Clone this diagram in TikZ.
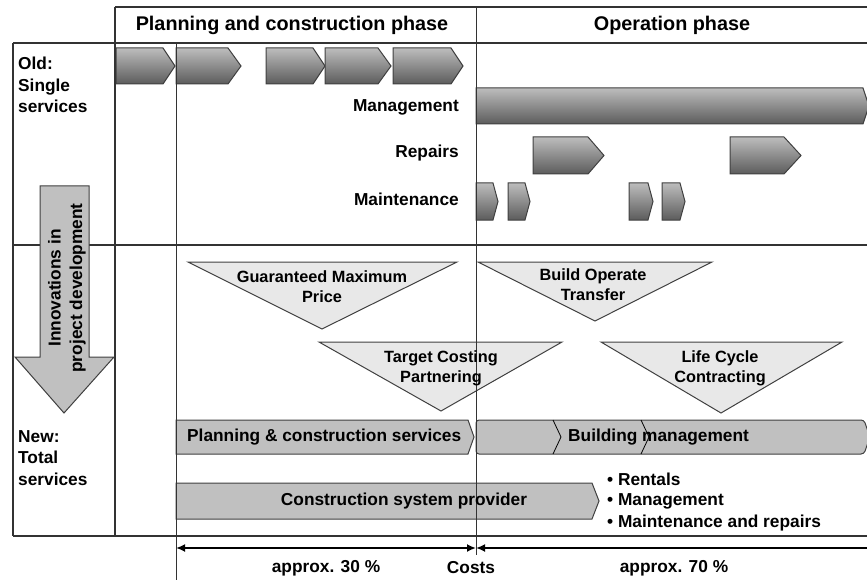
\documentclass[tikz,border=0pt]{standalone}
\usepackage{fontspec}
\setmainfont{Liberation Sans}
\usepackage{tikz}
\usetikzlibrary{arrows.meta}
\definecolor{edgegray}{HTML}{404040}
\definecolor{linegray}{HTML}{333333}
\definecolor{barfill}{HTML}{C0C0C0}
\definecolor{trifill}{HTML}{E8E8E8}
\tikzset{
  gridline/.style={draw=linegray, line width=1.2pt},
  phaseline/.style={draw=linegray, line width=0.9pt},
  oldchev/.style={draw=edgegray, line width=1pt, top color=black!26, bottom color=black!64},
  newbar/.style={draw=edgegray, line width=1pt, fill=barfill},
  wedge/.style={draw=edgegray, line width=1pt, fill=trifill},
  costarrow/.style={draw=black, line width=2pt, {Latex[length=9pt,width=8pt]}-{Latex[length=9pt,width=8pt]}},
  txt/.style={font=\bfseries\fontsize{17.3}{21.5}\selectfont, inner sep=0pt},
  headtxt/.style={font=\bfseries\fontsize{19.8}{23}\selectfont, inner sep=0pt},
  tritxt/.style={font=\bfseries\fontsize{16.3}{20}\selectfont, inner sep=0pt, align=center}
}
% \chev[style]{left}{tip}{top}{bottom}{tip depth}
\newcommand{\chev}[6][oldchev]{%
  \draw[#1] (#2,#4) -- ({#3-#6},#4) -- (#3,{(#4+#5)/2}) -- ({#3-#6},#5) -- (#2,#5) -- cycle;}

\begin{document}
\begin{tikzpicture}[x=1pt, y=-1pt]
\useasboundingbox (0,0) rectangle (867,580);

% old single services
\chev{116}{175}{48}{84}{12}
\chev{176}{241}{48}{84}{13}
\chev{266}{325}{48}{84}{12}
\chev{325}{391}{48}{84}{13}
\chev{393}{463}{48}{84}{12}
\chev{476}{869}{88}{124}{6}
\chev{533}{604}{137}{174}{16}
\chev{730}{801}{137}{174}{17}
\foreach \a/\b in {476/498, 508/530, 629/653, 662/685}{
  \chev{\a}{\b}{183}{220}{5}
}

% innovations
\draw[wedge] (188,262) -- (457,262) -- (322,329) -- cycle;
\draw[wedge] (319,342) -- (562,342) -- (441,411) -- cycle;
\draw[wedge] (478,262) -- (712,262) -- (595,321) -- cycle;
\draw[wedge] (601,342) -- (842,342) -- (721,413) -- cycle;

% new total services
\draw[newbar] (176,420) -- (468,420) -- (474,437) -- (468,454) -- (176,454) -- cycle;
\draw[newbar, rounded corners=3pt] (476,420) -- (864,420) -- (870,437) -- (864,454) -- (476,454) -- cycle;
\draw[black, line width=0.8pt] (553,420) -- (561,437) -- (553,454);
\draw[black, line width=0.8pt] (641,420) -- (649,437) -- (641,454);
\draw[newbar] (176,483) -- (592,483) -- (599,501) -- (592,519) -- (176,519) -- cycle;

% frame
\draw[gridline] (115,7) -- (867,7);
\draw[gridline] (13,43) -- (867,43);
\draw[gridline] (13,245) -- (867,245);
\draw[gridline] (13,536) -- (867,536);
\draw[gridline] (13,43) -- (13,536);
\draw[gridline] (115,7) -- (115,536);
\draw[phaseline] (176,43) -- (176,580);
\draw[phaseline] (476,7) -- (476,555);

% development arrow
\draw[draw=edgegray, line width=1pt, fill=barfill]
  (40,186) -- (89,186) -- (89,357) -- (114,357) -- (64,413) -- (15,357) -- (40,357) -- cycle;
\node[txt, rotate=90, align=center] (innov) at (67,288) {Innovations in\\project development};

\node[headtxt] (planphase) at (292,25) {Planning and construction phase};
\node[headtxt] (opphase) at (672,25) {Operation phase};

\node[txt, anchor=west, align=left] (old) at (18,85) {Old:\\Single\\services};
\node[txt, anchor=west, align=left] (new) at (18,458) {New:\\Total\\services};

\node[txt, anchor=east] (mgmt) at (459,107) {Management};
\node[txt, anchor=east] (rep) at (459,153) {Repairs};
\node[txt, anchor=east] (maint) at (459,199) {Maintenance};

\node[tritxt] (gmp) at (322,287) {Guaranteed Maximum\\Price};
\node[tritxt] (tcp) at (441,368) {Target Costing\\Partnering};
\node[tritxt] (bot) at (593,285) {Build Operate\\Transfer};
\node[tritxt] (lcc) at (720,368) {Life Cycle\\Contracting};

\node[txt, anchor=west] (pcs) at (187,437) {Planning \& construction services};
\node[txt, anchor=west] (bm) at (568,437) {Building management};
\node[txt] (csp) at (404,501) {Construction system provider};
\node[txt, anchor=west] (rent) at (607,479) {• Rentals};
\node[txt, anchor=west] (bmgmt) at (607,501) {• Management};
\node[txt, anchor=west] (mrep) at (607,523) {• Maintenance and repairs};

% costs
\coordinate (cleft) at (176,548);
\coordinate (cmid) at (476,548);
\coordinate (cright) at (880,548);
\draw[costarrow] (cleft) -- (cmid);
\draw[costarrow] (cmid) -- (cright);
\node[txt] (p30) at (326,568) {approx. 30 \%};
\node[txt] (costs) at (471,568) {Costs};
\node[txt] (p70) at (674,568) {approx. 70 \%};

\end{tikzpicture}
\end{document}
